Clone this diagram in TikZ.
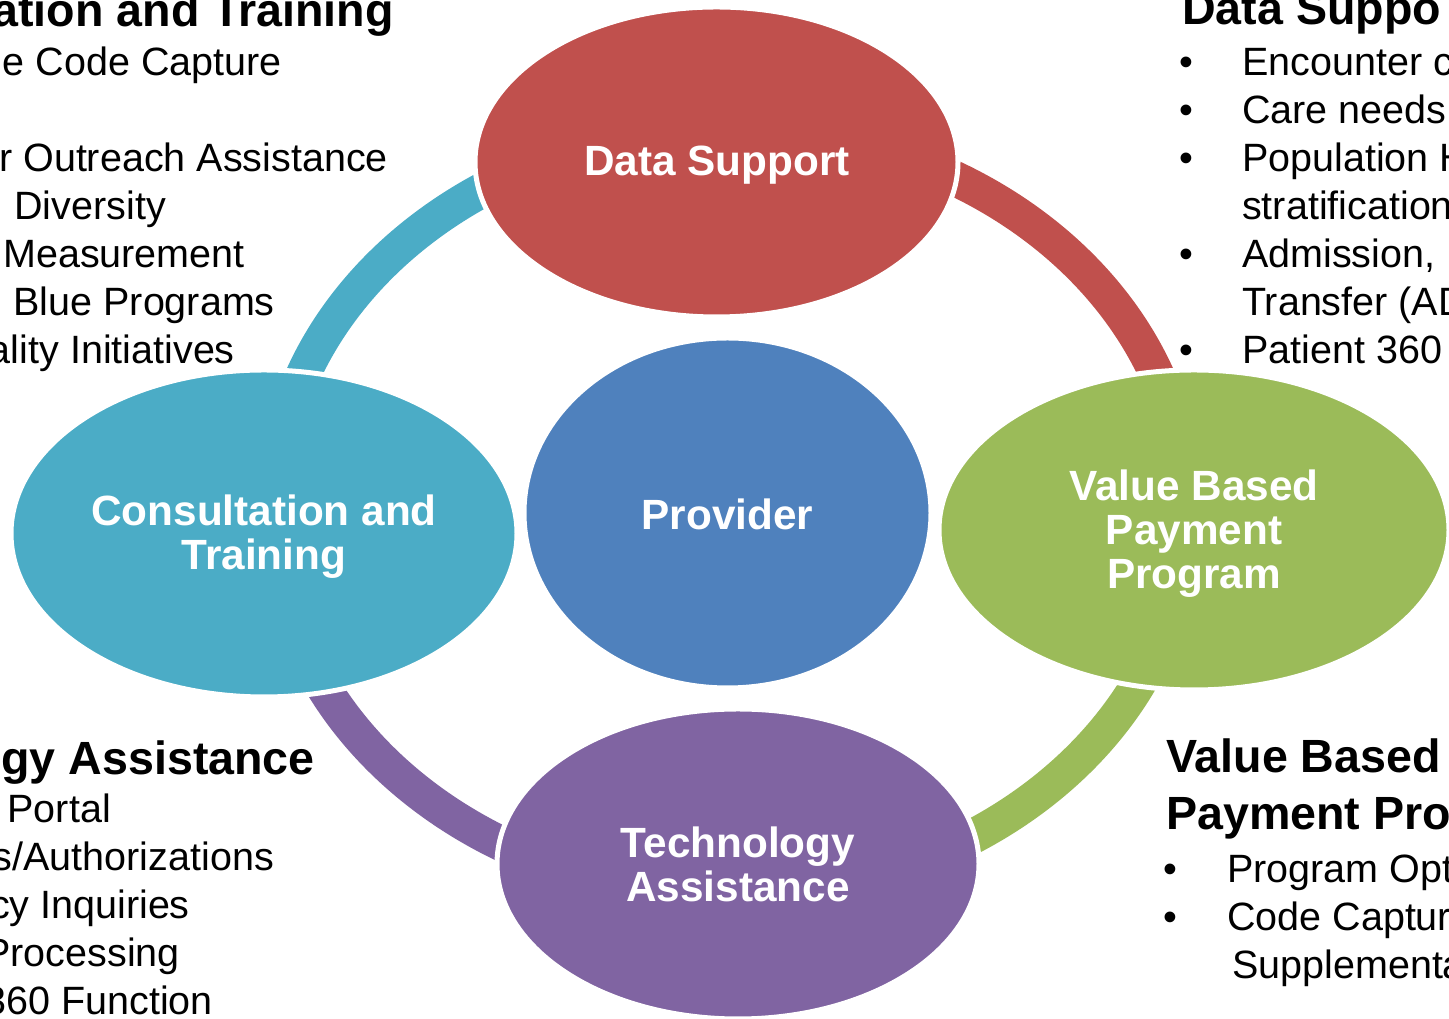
\documentclass[tikz,border=0pt]{standalone}
\usepackage{fontspec}
\setmainfont{Liberation Sans}
\usetikzlibrary{shapes.geometric}
\definecolor{cred}{HTML}{C0504D}
\definecolor{cblue}{HTML}{4F81BD}
\definecolor{cteal}{HTML}{4BACC6}
\definecolor{cgreen}{HTML}{9BBB59}
\definecolor{cpurple}{HTML}{8064A2}
\tikzset{
  ring/.style={line width=35pt},
  blob/.style={ellipse, draw=white, line width=5pt, inner sep=0pt},
  lbl/.style={text=white, align=center, inner sep=0pt,
               font=\bfseries\fontsize{42.3}{44}\selectfont},
  body/.style={font=\fontsize{39.5}{48}\selectfont, inner sep=0pt},
  head/.style={font=\bfseries\fontsize{46.6}{57}\selectfont, inner sep=0pt},
}
\begin{document}
\begin{tikzpicture}[x=1pt, y=1pt]
\useasboundingbox (0,0) rectangle (1449,1019);
\clip (0,0) rectangle (1449,1019);
\fill[white] (0,0) rectangle (1449,1019);
% ring
\coordinate (hub) at (730,507);
\draw[ring, cred]    (hub) ++(0:457 and 383)   arc[start angle=0,   end angle=90,  x radius=457, y radius=383];
\draw[ring, cteal]   (hub) ++(90:457 and 383)  arc[start angle=90,  end angle=180, x radius=457, y radius=383];
\draw[ring, cpurple] (hub) ++(180:457 and 383) arc[start angle=180, end angle=270, x radius=457, y radius=383];
\draw[ring, cgreen]  (hub) ++(270:457 and 383) arc[start angle=270, end angle=360, x radius=457, y radius=383];
% ellipses
\node[blob, fill=cred,    minimum width=483, minimum height=310] (data) at (716.5,857) {};
\node[blob, fill=cblue,   minimum width=407, minimum height=350] (prov) at (727.5,506) {};
\node[blob, fill=cteal,   minimum width=506, minimum height=327] (cons) at (264,485.5) {};
\node[blob, fill=cgreen,  minimum width=510, minimum height=320] (vbp)  at (1194,489) {};
\node[blob, fill=cpurple, minimum width=482, minimum height=310] (tech) at (738,155) {};
\node[lbl] (datat) at (717,854) {Data Support};
\node[lbl] (provt) at (727.5,505) {Provider};
\node[lbl] (const) at (264,482.5) {Consultation and\\Training};
\node[lbl] (vbpt)  at (1194,485) {Value Based\\Payment\\Program};
\node[lbl] (techt) at (738,155) {Technology\\Assistance};
% top-left block
\node[head, anchor=base east] (tlh) at (394,992) {ation and Training};
\node[body, anchor=base east] (tl1) at (282,943) {e Code Capture};
\node[body, anchor=base east] (tl2) at (388,847) {r Outreach Assistance};
\node[body, anchor=base east] (tl3) at (166,799) {Diversity};
\node[body, anchor=base east] (tl4) at (245,751) {Measurement};
\node[body, anchor=base east] (tl5) at (275,703) {Blue Programs};
\node[body, anchor=base east] (tl6) at (235,655) {ality Initiatives};
% top-right block
\node[head, anchor=base west] (trh) at (1182,994) {Data Suppo};
\foreach \y/\t [count=\i] in {943/Encounter c, 895/Care needs, 847/Population H, 799/stratification, 751/{Admission, }, 703/Transfer (AD, 655/Patient 360}{
  \node[body, anchor=base west] (tr\i) at (1242,\y) {\t};
}
\foreach \y [count=\i] in {943,895,847,751,655}{
  \node[body, anchor=base west] (trb\i) at (1179,\y) {•};
}
% bottom-left block
\node[head, anchor=base east] (blh) at (315,244) {gy Assistance};
\node[body, anchor=base east] (bl1) at (111,196) {Portal};
\node[body, anchor=base east] (bl2) at (274,148) {s/Authorizations};
\node[body, anchor=base east] (bl3) at (190,100) {cy Inquiries};
\node[body, anchor=base east] (bl4) at (180,52) {Processing};
\node[body, anchor=base east] (bl5) at (213,4) {360 Function};
% bottom-right block
\node[head, anchor=base west] (brh1) at (1166,246) {Value Based};
\node[head, anchor=base west] (brh2) at (1166,189) {Payment Pro};
\node[body, anchor=base west] (brb1) at (1163,136) {•};
\node[body, anchor=base west] (brb2) at (1163,88) {•};
\node[body, anchor=base west] (br1) at (1227,136) {Program Opt};
\node[body, anchor=base west] (br2) at (1227,88) {Code Captur};
\node[body, anchor=base west] (br3) at (1232,40) {Supplementa};
\end{tikzpicture}
\end{document}
